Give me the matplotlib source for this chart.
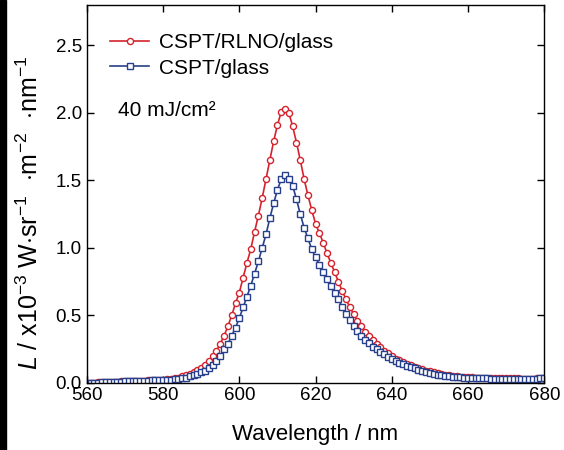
import matplotlib
matplotlib.use("Agg")
import matplotlib.pyplot as plt
import numpy as np
from matplotlib.patches import Rectangle

plt.rcParams['font.family'] = ['Liberation Sans', 'DejaVu Sans']
plt.rcParams['mathtext.fontset'] = 'custom'
plt.rcParams['mathtext.rm'] = 'Liberation Sans'
plt.rcParams['mathtext.it'] = 'Liberation Sans:italic'

# wavelength grid, 1 nm steps
wavelength = np.arange(560, 681)

# CSPT/RLNO/glass (560..680 nm)
rlno = [0.000, 0.002, 0.003, 0.004, 0.005, 0.006, 0.007, 0.008, 0.010, 0.011,   # 560-569
        0.012, 0.013, 0.014, 0.015, 0.016, 0.018, 0.019, 0.020, 0.021, 0.022,   # 570-579
        0.024, 0.026, 0.029, 0.035, 0.040, 0.050, 0.060, 0.070, 0.082, 0.095,   # 580-589
        0.11, 0.13, 0.16, 0.20, 0.24, 0.29, 0.35, 0.42, 0.50, 0.59,             # 590-599
        0.67, 0.78, 0.89, 0.99, 1.12, 1.24, 1.37, 1.51, 1.65, 1.79,             # 600-609
        1.91, 2.01, 2.03, 2.00, 1.90, 1.78, 1.65, 1.51, 1.39, 1.28,             # 610-619
        1.18, 1.11, 1.04, 0.96, 0.89, 0.82, 0.75, 0.68, 0.62, 0.56,             # 620-629
        0.51, 0.46, 0.42, 0.38, 0.35, 0.32, 0.29, 0.27, 0.24, 0.22,             # 630-639
        0.20, 0.18, 0.167, 0.153, 0.14, 0.13, 0.12, 0.11, 0.10, 0.092,          # 640-649
        0.085, 0.078, 0.072, 0.066, 0.061, 0.057, 0.053, 0.050, 0.047, 0.045,   # 650-659
        0.043, 0.041, 0.040, 0.039, 0.038, 0.037, 0.036, 0.035, 0.035, 0.034,   # 660-669
        0.034, 0.033, 0.033, 0.033, 0.032, 0.032, 0.032, 0.032, 0.033, 0.034,   # 670-679
        0.036]                                                                  # 680

# CSPT/glass
glass = [0.000, 0.001, 0.002, 0.003, 0.004, 0.005, 0.006, 0.007, 0.009, 0.010,  # 560-569
         0.011, 0.012, 0.013, 0.014, 0.015, 0.017, 0.018, 0.019, 0.020, 0.021,  # 570-579
         0.022, 0.023, 0.024, 0.026, 0.030, 0.035, 0.040, 0.050, 0.060, 0.070,  # 580-589
         0.08, 0.09, 0.11, 0.13, 0.16, 0.20, 0.25, 0.29, 0.35, 0.41,            # 590-599
         0.48, 0.56, 0.64, 0.72, 0.81, 0.90, 1.00, 1.10, 1.22, 1.33,            # 600-609
         1.43, 1.51, 1.54, 1.51, 1.46, 1.36, 1.25, 1.15, 1.07, 0.99,            # 610-619
         0.93, 0.877, 0.82, 0.77, 0.72, 0.67, 0.62, 0.56, 0.51, 0.465,          # 620-629
         0.42, 0.384, 0.35, 0.318, 0.293, 0.268, 0.249, 0.229, 0.212, 0.194,    # 630-639
         0.18, 0.165, 0.15, 0.138, 0.128, 0.118, 0.108, 0.096, 0.086, 0.079,    # 640-649
         0.072, 0.066, 0.060, 0.056, 0.052, 0.049, 0.046, 0.044, 0.042, 0.040,  # 650-659
         0.038, 0.037, 0.036, 0.035, 0.034, 0.033, 0.032, 0.032, 0.031, 0.031,  # 660-669
         0.030, 0.030, 0.030, 0.030, 0.030, 0.030, 0.031, 0.031, 0.032, 0.033,  # 670-679
         0.035]                                                                 # 680

red = '#d4232c'
blue = '#283f8c'

fig = plt.figure(figsize=(5.64, 4.50), dpi=100)
ax = fig.add_axes([0.154, 0.149, 0.811, 0.840])

ax.plot(wavelength, rlno, color=red, lw=1.2, marker='o', ms=4.4, mfc='white',
        mec=red, mew=1.0, label='CSPT/RLNO/glass')
ax.plot(wavelength, glass, color=blue, lw=1.2, marker='s', ms=4.4, mfc='white',
        mec=blue, mew=1.0, label='CSPT/glass')

ax.set_xlim(560, 680)
ax.set_ylim(0, 2.8)
ax.set_xticks(np.arange(560, 681, 20))
ax.set_yticks(np.arange(0, 2.51, 0.5))
ax.yaxis.set_major_formatter(plt.FormatStrFormatter('%.1f'))
ax.tick_params(direction='in', top=True, right=True, length=5, width=1, labelsize=13.5)
ax.tick_params(axis='x', pad=3)
for s in ax.spines.values():
    s.set_linewidth(1.0)

ax.set_xlabel('Wavelength / nm', fontsize=16, labelpad=14)
ax.set_ylabel(r'$\mathit{L}$ / x10$^{-3}$ W$\cdot$sr$^{-1}$  $\cdot$m$^{-2}$  $\cdot$nm$^{-1}$',
              fontsize=18)
ax.yaxis.set_label_coords(-0.095, 0.45)

legend_font = 15
leg = ax.legend(loc='upper left', bbox_to_anchor=(0.05, 0.925), frameon=False,
                fontsize=legend_font, handlelength=1.9, handletextpad=0.45,
                labelspacing=0.3, borderpad=0, borderaxespad=0)
ax.text(0.067, 0.72, '40 mJ/cm²', transform=ax.transAxes, fontsize=legend_font, va='center')

# dark strip at the left edge of the original picture
fig.patches.append(Rectangle((0, 0), 6 / 564, 1, transform=fig.transFigure,
                             color='black', zorder=10))

fig.savefig('out.png', dpi=100)
